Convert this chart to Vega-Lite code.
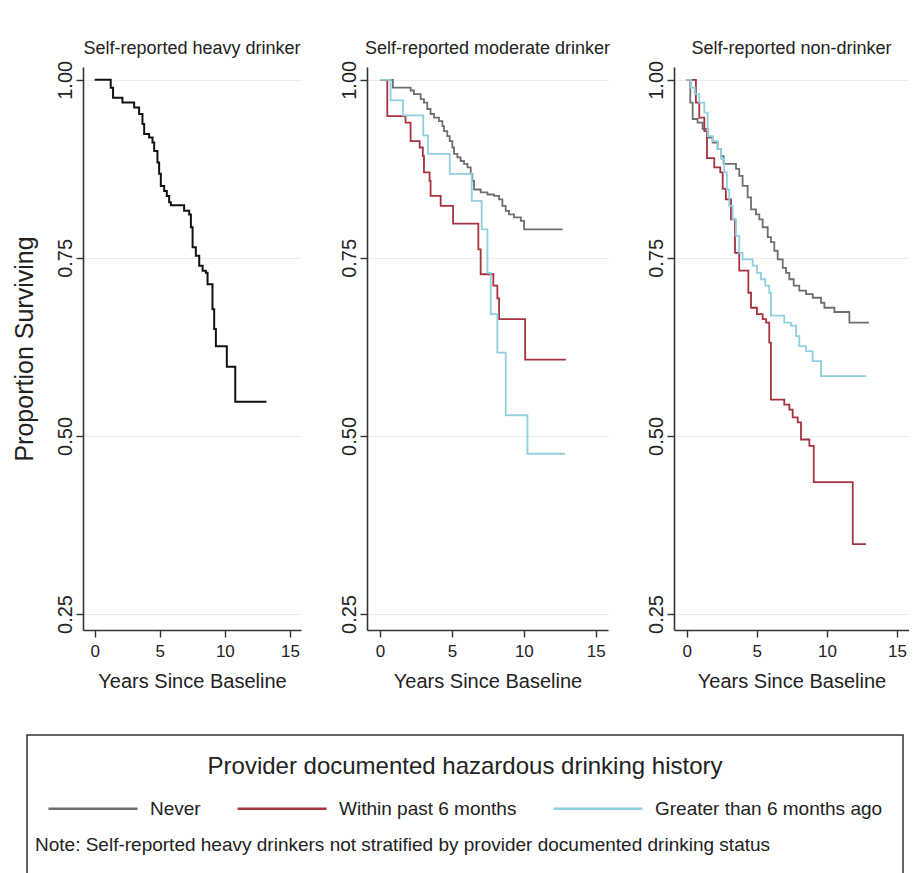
{
  "$schema": "https://vega.github.io/schema/vega-lite/v6.json",
  "background": "white",
  "autosize": {"type": "pad"},
  "padding": {"left": 12, "top": 40, "right": 0, "bottom": 0},
  "title": {
    "text": "Note: Self-reported heavy drinkers not stratified by provider documented drinking status",
    "orient": "bottom", "anchor": "start", "frame": "bounds", "offset": -53, "dx": 23,
    "font": "Liberation Sans", "fontSize": 19, "fontWeight": "normal", "color": "#222222"
  },
  "datasets": {
    "heavy": [
      {"t": 0, "s": 1.0}, {"t": 1.23, "s": 0.989}, {"t": 1.41, "s": 0.975}, {"t": 2.13, "s": 0.968},
      {"t": 3.03, "s": 0.961}, {"t": 3.41, "s": 0.952}, {"t": 3.67, "s": 0.938}, {"t": 3.8, "s": 0.924},
      {"t": 4.18, "s": 0.919}, {"t": 4.44, "s": 0.912}, {"t": 4.57, "s": 0.9}, {"t": 4.82, "s": 0.884},
      {"t": 4.95, "s": 0.868}, {"t": 5.08, "s": 0.851}, {"t": 5.34, "s": 0.844}, {"t": 5.54, "s": 0.837},
      {"t": 5.72, "s": 0.828}, {"t": 5.85, "s": 0.824}, {"t": 6.87, "s": 0.816}, {"t": 7.26, "s": 0.811},
      {"t": 7.39, "s": 0.793}, {"t": 7.52, "s": 0.765}, {"t": 7.77, "s": 0.753}, {"t": 8.03, "s": 0.739},
      {"t": 8.29, "s": 0.732}, {"t": 8.54, "s": 0.729}, {"t": 8.67, "s": 0.713}, {"t": 9.05, "s": 0.678},
      {"t": 9.18, "s": 0.65}, {"t": 9.31, "s": 0.626}, {"t": 10.15, "s": 0.597}, {"t": 10.8, "s": 0.548},
      {"t": 13.2, "s": 0.548}
    ],
    "moderate": [
      {"g": "Never", "t": 0, "s": 1.0}, {"g": "Never", "t": 0.9, "s": 0.989}, {"g": "Never", "t": 2.13, "s": 0.985},
      {"g": "Never", "t": 2.36, "s": 0.98}, {"g": "Never", "t": 2.83, "s": 0.973}, {"g": "Never", "t": 3.06, "s": 0.968},
      {"g": "Never", "t": 3.29, "s": 0.959}, {"g": "Never", "t": 3.52, "s": 0.952}, {"g": "Never", "t": 3.76, "s": 0.947},
      {"g": "Never", "t": 4.1, "s": 0.942}, {"g": "Never", "t": 4.34, "s": 0.935}, {"g": "Never", "t": 4.45, "s": 0.928},
      {"g": "Never", "t": 4.68, "s": 0.921}, {"g": "Never", "t": 4.85, "s": 0.914}, {"g": "Never", "t": 5.03, "s": 0.905},
      {"g": "Never", "t": 5.15, "s": 0.896}, {"g": "Never", "t": 5.38, "s": 0.891}, {"g": "Never", "t": 5.61, "s": 0.886},
      {"g": "Never", "t": 5.84, "s": 0.882}, {"g": "Never", "t": 6.08, "s": 0.877}, {"g": "Never", "t": 6.31, "s": 0.868},
      {"g": "Never", "t": 6.42, "s": 0.858}, {"g": "Never", "t": 6.54, "s": 0.846}, {"g": "Never", "t": 7.0, "s": 0.842},
      {"g": "Never", "t": 7.47, "s": 0.839}, {"g": "Never", "t": 7.93, "s": 0.837}, {"g": "Never", "t": 8.28, "s": 0.832},
      {"g": "Never", "t": 8.51, "s": 0.823}, {"g": "Never", "t": 8.74, "s": 0.816}, {"g": "Never", "t": 8.97, "s": 0.811},
      {"g": "Never", "t": 9.32, "s": 0.807}, {"g": "Never", "t": 9.79, "s": 0.802}, {"g": "Never", "t": 10.02, "s": 0.79},
      {"g": "Never", "t": 12.69, "s": 0.79},
      {"g": "Within past 6 months", "t": 0, "s": 1.0}, {"g": "Within past 6 months", "t": 0.51, "s": 0.949},
      {"g": "Within past 6 months", "t": 1.78, "s": 0.94}, {"g": "Within past 6 months", "t": 2.13, "s": 0.914},
      {"g": "Within past 6 months", "t": 2.76, "s": 0.905}, {"g": "Within past 6 months", "t": 2.98, "s": 0.893},
      {"g": "Within past 6 months", "t": 3.06, "s": 0.87}, {"g": "Within past 6 months", "t": 3.45, "s": 0.858},
      {"g": "Within past 6 months", "t": 3.52, "s": 0.837}, {"g": "Within past 6 months", "t": 4.22, "s": 0.823},
      {"g": "Within past 6 months", "t": 5.08, "s": 0.798}, {"g": "Within past 6 months", "t": 6.84, "s": 0.762},
      {"g": "Within past 6 months", "t": 7.0, "s": 0.727}, {"g": "Within past 6 months", "t": 7.88, "s": 0.711},
      {"g": "Within past 6 months", "t": 8.16, "s": 0.693}, {"g": "Within past 6 months", "t": 8.28, "s": 0.664},
      {"g": "Within past 6 months", "t": 10.09, "s": 0.607}, {"g": "Within past 6 months", "t": 12.92, "s": 0.607},
      {"g": "Greater than 6 months ago", "t": 0, "s": 1.0}, {"g": "Greater than 6 months ago", "t": 0.74, "s": 0.971},
      {"g": "Greater than 6 months ago", "t": 1.6, "s": 0.95}, {"g": "Greater than 6 months ago", "t": 3.01, "s": 0.922},
      {"g": "Greater than 6 months ago", "t": 3.34, "s": 0.896}, {"g": "Greater than 6 months ago", "t": 4.85, "s": 0.868},
      {"g": "Greater than 6 months ago", "t": 6.38, "s": 0.83}, {"g": "Greater than 6 months ago", "t": 7.07, "s": 0.79},
      {"g": "Greater than 6 months ago", "t": 7.47, "s": 0.729}, {"g": "Greater than 6 months ago", "t": 7.7, "s": 0.671},
      {"g": "Greater than 6 months ago", "t": 8.16, "s": 0.617}, {"g": "Greater than 6 months ago", "t": 8.74, "s": 0.529},
      {"g": "Greater than 6 months ago", "t": 10.25, "s": 0.475}, {"g": "Greater than 6 months ago", "t": 12.87, "s": 0.475}
    ],
    "nondrinker": [
      {"g": "Never", "t": 0, "s": 1.0}, {"g": "Never", "t": 0.26, "s": 0.968}, {"g": "Never", "t": 0.43, "s": 0.945},
      {"g": "Never", "t": 0.78, "s": 0.94}, {"g": "Never", "t": 1.14, "s": 0.931}, {"g": "Never", "t": 1.5, "s": 0.919},
      {"g": "Never", "t": 1.85, "s": 0.912}, {"g": "Never", "t": 2.21, "s": 0.903}, {"g": "Never", "t": 2.45, "s": 0.893},
      {"g": "Never", "t": 2.64, "s": 0.882}, {"g": "Never", "t": 3.52, "s": 0.875}, {"g": "Never", "t": 3.75, "s": 0.865},
      {"g": "Never", "t": 3.99, "s": 0.851}, {"g": "Never", "t": 4.35, "s": 0.835}, {"g": "Never", "t": 4.59, "s": 0.818},
      {"g": "Never", "t": 4.94, "s": 0.811}, {"g": "Never", "t": 5.18, "s": 0.804}, {"g": "Never", "t": 5.42, "s": 0.793},
      {"g": "Never", "t": 5.78, "s": 0.779}, {"g": "Never", "t": 6.01, "s": 0.772}, {"g": "Never", "t": 6.25, "s": 0.76},
      {"g": "Never", "t": 6.49, "s": 0.748}, {"g": "Never", "t": 6.85, "s": 0.736}, {"g": "Never", "t": 7.08, "s": 0.729},
      {"g": "Never", "t": 7.32, "s": 0.72}, {"g": "Never", "t": 7.63, "s": 0.711}, {"g": "Never", "t": 8.03, "s": 0.704},
      {"g": "Never", "t": 8.51, "s": 0.699}, {"g": "Never", "t": 8.99, "s": 0.694}, {"g": "Never", "t": 9.58, "s": 0.687},
      {"g": "Never", "t": 9.82, "s": 0.68}, {"g": "Never", "t": 10.53, "s": 0.674}, {"g": "Never", "t": 11.6, "s": 0.659},
      {"g": "Never", "t": 13.0, "s": 0.659},
      {"g": "Within past 6 months", "t": 0, "s": 1.0}, {"g": "Within past 6 months", "t": 0.66, "s": 0.968},
      {"g": "Within past 6 months", "t": 0.9, "s": 0.947}, {"g": "Within past 6 months", "t": 1.26, "s": 0.928},
      {"g": "Within past 6 months", "t": 1.45, "s": 0.89}, {"g": "Within past 6 months", "t": 1.97, "s": 0.877},
      {"g": "Within past 6 months", "t": 2.4, "s": 0.87}, {"g": "Within past 6 months", "t": 2.57, "s": 0.847},
      {"g": "Within past 6 months", "t": 2.8, "s": 0.832}, {"g": "Within past 6 months", "t": 3.16, "s": 0.804},
      {"g": "Within past 6 months", "t": 3.45, "s": 0.757}, {"g": "Within past 6 months", "t": 3.75, "s": 0.732},
      {"g": "Within past 6 months", "t": 4.4, "s": 0.701}, {"g": "Within past 6 months", "t": 4.59, "s": 0.68},
      {"g": "Within past 6 months", "t": 5.01, "s": 0.671}, {"g": "Within past 6 months", "t": 5.42, "s": 0.664},
      {"g": "Within past 6 months", "t": 5.66, "s": 0.659}, {"g": "Within past 6 months", "t": 5.89, "s": 0.631},
      {"g": "Within past 6 months", "t": 6.01, "s": 0.551}, {"g": "Within past 6 months", "t": 6.96, "s": 0.544},
      {"g": "Within past 6 months", "t": 7.32, "s": 0.537}, {"g": "Within past 6 months", "t": 7.56, "s": 0.526},
      {"g": "Within past 6 months", "t": 7.92, "s": 0.519}, {"g": "Within past 6 months", "t": 8.15, "s": 0.495},
      {"g": "Within past 6 months", "t": 8.75, "s": 0.486}, {"g": "Within past 6 months", "t": 9.06, "s": 0.435},
      {"g": "Within past 6 months", "t": 11.84, "s": 0.348}, {"g": "Within past 6 months", "t": 12.79, "s": 0.348},
      {"g": "Greater than 6 months ago", "t": 0, "s": 1.0}, {"g": "Greater than 6 months ago", "t": 0.31, "s": 0.989},
      {"g": "Greater than 6 months ago", "t": 0.59, "s": 0.98}, {"g": "Greater than 6 months ago", "t": 0.9, "s": 0.968},
      {"g": "Greater than 6 months ago", "t": 1.26, "s": 0.954}, {"g": "Greater than 6 months ago", "t": 1.5, "s": 0.921},
      {"g": "Greater than 6 months ago", "t": 1.85, "s": 0.914}, {"g": "Greater than 6 months ago", "t": 2.21, "s": 0.903},
      {"g": "Greater than 6 months ago", "t": 2.45, "s": 0.889}, {"g": "Greater than 6 months ago", "t": 2.68, "s": 0.87},
      {"g": "Greater than 6 months ago", "t": 2.87, "s": 0.846}, {"g": "Greater than 6 months ago", "t": 3.04, "s": 0.823},
      {"g": "Greater than 6 months ago", "t": 3.28, "s": 0.804}, {"g": "Greater than 6 months ago", "t": 3.52, "s": 0.781},
      {"g": "Greater than 6 months ago", "t": 3.75, "s": 0.757}, {"g": "Greater than 6 months ago", "t": 3.99, "s": 0.748},
      {"g": "Greater than 6 months ago", "t": 4.71, "s": 0.739}, {"g": "Greater than 6 months ago", "t": 5.01, "s": 0.729},
      {"g": "Greater than 6 months ago", "t": 5.3, "s": 0.72}, {"g": "Greater than 6 months ago", "t": 5.61, "s": 0.711},
      {"g": "Greater than 6 months ago", "t": 5.89, "s": 0.701}, {"g": "Greater than 6 months ago", "t": 6.01, "s": 0.669},
      {"g": "Greater than 6 months ago", "t": 6.96, "s": 0.659}, {"g": "Greater than 6 months ago", "t": 7.44, "s": 0.655},
      {"g": "Greater than 6 months ago", "t": 7.8, "s": 0.64}, {"g": "Greater than 6 months ago", "t": 8.03, "s": 0.626},
      {"g": "Greater than 6 months ago", "t": 8.51, "s": 0.619}, {"g": "Greater than 6 months ago", "t": 8.98, "s": 0.605},
      {"g": "Greater than 6 months ago", "t": 9.58, "s": 0.584}, {"g": "Greater than 6 months ago", "t": 12.79, "s": 0.584}
    ]
  },
  "config": {
    "font": "Liberation Sans",
    "view": {"stroke": null},
    "title": {"font": "Liberation Sans", "fontSize": 18, "fontWeight": "normal", "color": "#222222", "offset": 2},
    "axis": {
      "domainColor": "#333333", "domainWidth": 1.6, "tickColor": "#333333", "tickWidth": 1.4, "tickSize": 7,
      "labelColor": "#222222", "titleColor": "#222222", "titleFontWeight": "normal",
      "gridColor": "#ececec", "gridWidth": 1
    },
    "axisX": {"grid": false, "labelFont": "Liberation Sans", "labelFontSize": 17, "labelPadding": 6,
      "titleFont": "Liberation Sans", "titleFontSize": 20, "titlePadding": 12},
    "axisY": {"grid": true, "labelFont": "Liberation Sans", "labelFontSize": 20, "labelAngle": 270,
      "labelAlign": "center", "labelBaseline": "alphabetic", "labelPadding": 5,
      "titleFont": "Liberation Sans", "titleFontSize": 25, "titlePadding": 18},
    "legend": {"strokeWidth": 1.5}
  },
  "bounds": "flush",
  "spacing": 66,
  "hconcat": [
    {
      "width": 218, "height": 563,
      "title": "Self-reported heavy drinker",
      "data": {"name": "heavy"},
      "mark": {"type": "line", "interpolate": "step-after", "strokeWidth": 2, "color": "#111111"},
      "encoding": {
        "x": {"field": "t", "type": "quantitative",
          "scale": {"domain": [-0.9, 15.85], "nice": false, "zero": false},
          "axis": {"values": [0, 5, 10, 15], "title": "Years Since Baseline"}},
        "y": {"field": "s", "type": "quantitative",
          "scale": {"domain": [0.2275, 1.018], "nice": false, "zero": false},
          "axis": {"values": [0.25, 0.5, 0.75, 1], "format": ".2f", "title": "Proportion Surviving"}}
      }
    },
    {
      "width": 241, "height": 563,
      "title": "Self-reported moderate drinker",
      "data": {"name": "moderate"},
      "mark": {"type": "line", "interpolate": "step-after", "strokeWidth": 1.8},
      "encoding": {
        "x": {"field": "t", "type": "quantitative",
          "scale": {"domain": [-0.9, 15.85], "nice": false, "zero": false},
          "axis": {"values": [0, 5, 10, 15], "title": "Years Since Baseline"}},
        "y": {"field": "s", "type": "quantitative",
          "scale": {"domain": [0.2275, 1.018], "nice": false, "zero": false},
          "axis": {"values": [0.25, 0.5, 0.75, 1], "format": ".2f", "title": null}},
        "color": {"field": "g", "type": "nominal",
          "scale": {"domain": ["Never", "Within past 6 months", "Greater than 6 months ago"],
                    "range": ["#6f6f6f", "#a8323e", "#8fcfe0"]},
          "legend": {
            "orient": "none", "legendX": -56, "legendY": 668, "direction": "horizontal", "padding": 20,
            "strokeColor": "#333333",
            "title": "Provider documented hazardous drinking history",
            "titleFont": "Liberation Sans", "titleFontSize": 24, "titleFontWeight": "normal",
            "titleColor": "#222222", "titleAnchor": "middle", "titlePadding": -16.5, "titleLimit": 900,
            "symbolType": "M-1,0H1M0,1.2", "symbolSize": 7921, "symbolStrokeWidth": 2.5,
            "labelFont": "Liberation Sans", "labelFontSize": 19, "labelColor": "#222222",
            "labelOffset": 11, "labelLimit": 400, "columnPadding": 31
          }}
      }
    },
    {
      "width": 235, "height": 563,
      "title": "Self-reported non-drinker",
      "data": {"name": "nondrinker"},
      "mark": {"type": "line", "interpolate": "step-after", "strokeWidth": 1.8},
      "encoding": {
        "x": {"field": "t", "type": "quantitative",
          "scale": {"domain": [-0.9, 15.85], "nice": false, "zero": false},
          "axis": {"values": [0, 5, 10, 15], "title": "Years Since Baseline"}},
        "y": {"field": "s", "type": "quantitative",
          "scale": {"domain": [0.2275, 1.018], "nice": false, "zero": false},
          "axis": {"values": [0.25, 0.5, 0.75, 1], "format": ".2f", "title": null}},
        "color": {"field": "g", "type": "nominal",
          "scale": {"domain": ["Never", "Within past 6 months", "Greater than 6 months ago"],
                    "range": ["#6f6f6f", "#a8323e", "#8fcfe0"]},
          "legend": {
            "orient": "none", "legendX": -56, "legendY": 668, "direction": "horizontal", "padding": 20,
            "strokeColor": "#333333",
            "title": "Provider documented hazardous drinking history",
            "titleFont": "Liberation Sans", "titleFontSize": 24, "titleFontWeight": "normal",
            "titleColor": "#222222", "titleAnchor": "middle", "titlePadding": -16.5, "titleLimit": 900,
            "symbolType": "M-1,0H1M0,1.2", "symbolSize": 7921, "symbolStrokeWidth": 2.5,
            "labelFont": "Liberation Sans", "labelFontSize": 19, "labelColor": "#222222",
            "labelOffset": 11, "labelLimit": 400, "columnPadding": 31
          }}
      }
    }
  ]
}
